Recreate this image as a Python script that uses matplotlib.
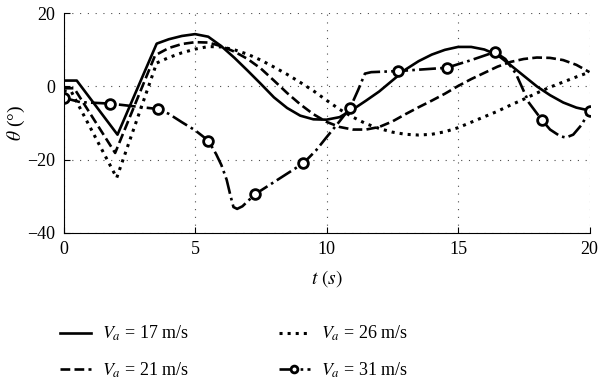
import numpy as np
import matplotlib
matplotlib.use("Agg")
import matplotlib.pyplot as plt

plt.rcParams['font.family'] = ['Liberation Serif', 'DejaVu Serif']
plt.rcParams['mathtext.fontset'] = 'stix'

# Va = 17 m/s
t17 = [0, 0.5, 2.05, 3.54, 4.0, 4.5, 5.0, 5.5, 6.0, 6.5, 7.0, 7.5, 8.0, 8.5, 9.0, 9.5, 10.0,
       10.5, 11.0, 11.5, 12.0, 12.5, 13.0, 13.5, 14.0, 14.5, 15.0, 15.5, 16.0, 16.5, 17.0,
       17.5, 18.0, 18.5, 19.0, 19.5, 20]
th17 = [1.6, 1.6, -13.2, 11.7, 12.9, 13.8, 14.3, 13.6, 11.0, 7.8, 4.3, 0.7, -3.0, -5.9, -8.0, -9.0, -9.1,
        -8.4, -6.3, -3.9, -1.4, 1.6, 4.6, 6.9, 8.7, 10.0, 10.8, 10.8, 10.1, 8.6, 5.8,
        2.9, 0.0, -2.4, -4.4, -5.8, -6.6]

# Va = 21 m/s
t21 = [0, 0.4, 1.96, 3.48, 4.0, 4.5, 5.0, 5.5, 6.0, 6.5, 7.0, 7.5, 8.0, 8.5, 9.0, 9.5, 10.0,
       10.5, 11.0, 11.5, 12.0, 12.5, 13.0, 13.5, 14.0, 14.5, 15.0, 15.5, 16.0, 16.5, 17.0,
       17.5, 18.0, 18.5, 19.0, 19.5, 20]
th21 = [-0.5, -0.5, -18.2, 8.5, 10.5, 11.6, 12.1, 12.0, 11.0, 9.5, 7.5, 4.9, 1.6, -1.8, -4.9, -7.6, -9.7,
        -11.1, -11.8, -11.8, -11.1, -9.6, -7.6, -5.7, -3.9, -2.0, 0.1, 2.0, 3.7, 5.4, 6.7,
        7.5, 7.9, 7.8, 7.2, 5.9, 3.9]

# Va = 26 m/s
t26 = [0, 0.3, 2.02, 3.54, 4.0, 4.5, 5.0, 5.5, 6.0, 6.5, 7.0, 7.5, 8.0, 8.5, 9.0, 9.5, 10.0,
       10.5, 11.0, 11.5, 12.0, 12.5, 13.0, 13.5, 14.0, 14.5, 15.0, 15.5, 16.0, 16.5, 17.0,
       17.5, 18.0, 18.5, 19.0, 19.5, 20]
th26 = [-1.2, -1.5, -25.0, 6.4, 7.9, 9.2, 10.2, 10.9, 10.8, 10.0, 8.8, 7.2, 5.3, 3.3, 1.1, -1.2, -3.8,
        -6.3, -8.4, -10.2, -11.5, -12.5, -13.1, -13.3, -13.1, -12.4, -11.3, -9.8, -8.3, -6.8, -5.1,
        -3.5, -1.8, -0.2, 1.2, 2.6, 3.9]

# Va = 31 m/s
t31 = [0, 0.63, 1.77, 3.6, 4.0, 4.5, 5.0, 5.5, 5.8, 6.0, 6.2, 6.35, 6.46, 6.6, 6.8, 7.28,
       9.12, 9.6, 10.0, 10.5, 10.9, 11.2, 11.46, 11.7, 12.73, 14.57, 15.46, 16.4, 16.8,
       17.2, 17.7, 18.18, 18.5, 18.88, 19.1, 19.38, 19.7, 20]
th31 = [-3.1, -4.3, -4.7, -6.2, -7.5, -9.8, -12.0, -14.8, -18.5, -21.5, -25.5, -30.0, -33.0, -33.5, -32.8, -29.5,
        -21.0, -17.5, -13.9, -9.5, -5.8, -1.0, 3.5, 3.9, 4.2, 5.1, 7.1, 9.4, 7.5,
        3.5, -4.5, -9.1, -11.8, -13.6, -14.0, -13.2, -10.5, -6.7]
marks31 = [0, 2, 3, 7, 15, 16, 20, 24, 25, 27, 31, 37]

fig = plt.figure(figsize=(6, 3.91), dpi=100)
ax = fig.add_axes([0.106, 0.405, 0.8765, 0.561])

lw = 1.9
ax.plot(t17, th17, color='k', lw=lw, ls='-', label=r'$V_a$ = 17 m/s')
ax.plot(t21, th21, color='k', lw=lw, ls='--', label=r'$V_a$ = 21 m/s')
ax.plot(t26, th26, color='k', lw=2.2, ls=':', label=r'$V_a$ = 26 m/s')
ax.plot(t31, th31, color='k', lw=lw, ls='-.', marker='o', markevery=marks31,
        markersize=7, markerfacecolor='white', markeredgewidth=2,
        label=r'$V_a$ = 31 m/s')

ax.set_xlim(0, 20)
ax.set_ylim(-40, 20)
ax.set_xticks([0, 5, 10, 15, 20])
ax.set_yticks([-40, -20, 0, 20])
ax.grid(True, color='0.3', lw=0.8, ls=(0, (1, 6)))
ax.spines['top'].set_visible(False)
ax.spines['right'].set_visible(False)
ax.tick_params(direction='in', labelsize=13, length=4, pad=6)
ax.set_xlabel(r'$t\ (s)$', fontsize=14, labelpad=7)
ax.set_ylabel(r'$\theta$ (°)', fontsize=14, labelpad=0)

fig.legend(loc='upper left', bbox_to_anchor=(0.073, 0.213), ncol=2, frameon=False,
           fontsize=13, handlelength=1.7, columnspacing=5.0, labelspacing=0.95,
           handletextpad=0.6, markerscale=0.7)

fig.savefig('out.png', dpi=100)
